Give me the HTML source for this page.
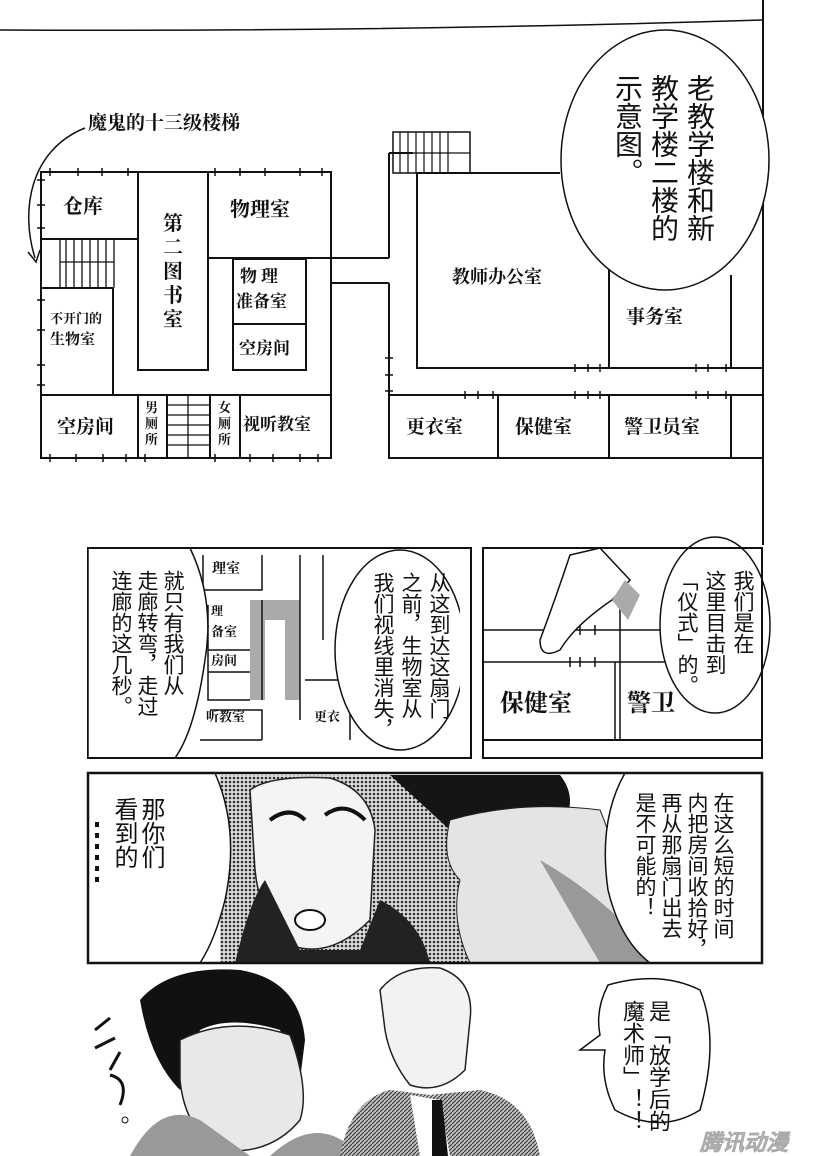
<!DOCTYPE html>
<html><head><meta charset="utf-8"><style>
body{margin:0;background:#fff;}
#c{position:relative;width:820px;height:1156px;overflow:hidden;background:#fff;font-family:"Liberation Sans","Noto Sans CJK SC",sans-serif;}
.v{position:absolute;writing-mode:vertical-rl;font-family:"Liberation Sans","Noto Sans CJK SC",sans-serif;color:#111;line-height:1;white-space:nowrap;}
.s{position:absolute;font-family:"Liberation Serif","Noto Serif CJK SC",serif;font-weight:bold;color:#111;white-space:nowrap;line-height:1;}
svg{position:absolute;left:0;top:0;}
</style></head><body><div id="c">
<svg width="820" height="1156" viewBox="0 0 820 1156">
<defs>
<pattern id="dot" width="4" height="4" patternUnits="userSpaceOnUse"><rect width="4" height="4" fill="#ddd"/><circle cx="2" cy="2" r="1.3" fill="#333"/></pattern>
<pattern id="hatch" width="4" height="4" patternUnits="userSpaceOnUse"><rect width="4" height="4" fill="#bbb"/><path d="M0 4L4 0" stroke="#333" stroke-width="1"/></pattern>
</defs>
<g fill="none" stroke="#111" stroke-width="2">
<path d="M0 30 Q380 32 762 20" stroke-width="1.5"/>
<line x1="763" y1="0" x2="763" y2="545"/>
<rect x="41" y="172" width="290" height="286"/>
<line x1="41" y1="239" x2="138" y2="239"/>
<rect x="138" y="172" width="70" height="198"/>
<line x1="208" y1="258" x2="331" y2="258"/>
<rect x="233" y="259" width="73" height="65"/>
<rect x="233" y="324" width="73" height="46"/>
<line x1="41" y1="288" x2="113" y2="288"/>
<line x1="113" y1="288" x2="113" y2="395"/>
<line x1="41" y1="395" x2="331" y2="395"/>
<line x1="138" y1="395" x2="138" y2="458"/>
<line x1="167" y1="395" x2="167" y2="458"/>
<line x1="210" y1="395" x2="210" y2="458"/>
<line x1="240" y1="395" x2="240" y2="458"/>
<g stroke-width="1.3"><line x1="60" y1="239" x2="60" y2="288"/><line x1="66" y1="239" x2="66" y2="288"/><line x1="74" y1="239" x2="74" y2="288"/><line x1="82" y1="239" x2="82" y2="288"/><line x1="90" y1="239" x2="90" y2="288"/><line x1="98" y1="239" x2="98" y2="288"/><line x1="106" y1="239" x2="106" y2="288"/><line x1="114" y1="239" x2="114" y2="288"/><line x1="60" y1="262" x2="114" y2="262"/>
<line x1="167" y1="405" x2="210" y2="405"/><line x1="167" y1="415" x2="210" y2="415"/><line x1="167" y1="425" x2="210" y2="425"/><line x1="167" y1="435" x2="210" y2="435"/><line x1="167" y1="445" x2="210" y2="445"/><line x1="188" y1="395" x2="188" y2="458"/></g>
<g stroke-width="1.5">
<path d="M50 168v8M78 168v8M102 168v8M128 168v8M215 168v8M240 168v8M265 168v8M300 168v8M322 168v8M50 454v8M76 454v8M103 454v8M126 454v8M145 454v8M215 454v8M250 454v8M273 454v8M300 454v8M318 454v8M37 180h8M37 205h8M37 228h8M37 300h8M37 330h8M37 365h8M37 385h8"/>
</g>
<path d="M85 128 C30 150 20 210 35 258" stroke-width="1.5"/>
<path d="M28 252 L36 262 L40 250" stroke-width="1.5"/>
<line x1="331" y1="258" x2="389" y2="258"/>
<line x1="331" y1="283" x2="389" y2="283"/>
<path d="M389 153 V258 M389 283 V458 H762"/>
<line x1="389" y1="153" x2="413" y2="153"/>
<line x1="417" y1="173" x2="560" y2="173"/>
<path d="M417 173 V368 H762"/>
<line x1="609" y1="265" x2="609" y2="368"/>
<line x1="731" y1="275" x2="731" y2="368"/>
<line x1="389" y1="395" x2="762" y2="395"/>
<line x1="498" y1="395" x2="498" y2="458"/>
<line x1="609" y1="395" x2="609" y2="458"/>
<line x1="731" y1="395" x2="731" y2="458"/>
<rect x="393" y="132" width="77" height="41" stroke-width="1.5"/>
<g stroke-width="1.2"><path d="M400 132v41M408 132v41M416 132v41M424 132v41M432 132v41M440 132v41M448 132v41M393 153h77"/></g>
<path d="M575 364v8M588 364v8M600 364v8M696 364v8M708 364v8M726 364v8M465 391v8M478 391v8M493 391v8M575 391v8M588 391v8M600 391v8M696 391v8M708 391v8M726 391v8M385 358h8M385 375h8M385 391h8" stroke-width="1.5"/>
<ellipse cx="665" cy="160" rx="104" ry="130" fill="#fff" stroke-width="1.5"/>
<rect x="88" y="548" width="383" height="210"/>
<rect x="483" y="548" width="279" height="210"/>
<line x1="483" y1="740" x2="762" y2="740"/>
</g>
<path d="M250 600 H300 V700 H285 V620 H265 V700 H250 Z" fill="#aaa"/>
<g fill="none" stroke="#111" stroke-width="1.5">
<path d="M203 555 V590 H262 V555"/><path d="M208 605 V700 H250"/><path d="M208 650 H250 M208 672 H250"/><path d="M210 710 H262 V740 M200 740 H262"/>
<path d="M262 600 V700 M300 555 V720 M323 555 V640"/><path d="M305 680 H350 V740"/>
</g>
<path d="M88 548 H190 Q215 600 205 660 Q195 730 175 758 H88Z" fill="#fff" stroke="#111" stroke-width="1.5"/>
<ellipse cx="400" cy="650" rx="65" ry="100" fill="#fff" stroke="#111" stroke-width="1.5"/>
<rect x="460" y="548" width="11" height="210" fill="#fff"/>
<line x1="471" y1="548" x2="471" y2="758" stroke="#111" stroke-width="2"/>
<line x1="88" y1="758" x2="471" y2="758" stroke="#111" stroke-width="2"/>
<line x1="88" y1="548" x2="471" y2="548" stroke="#111" stroke-width="2"/>
<g fill="none" stroke="#111" stroke-width="1.5">
<path d="M483 630 H680 M483 662 H680 M620 578 V740 M615 662 V740"/>
<path d="M570 625v10M580 625v10M595 625v10M570 657v10M580 657v10M595 657v10"/>
</g>
<path d="M600 548 L630 580 L612 600 Q575 625 560 650 Q540 660 540 640 Q555 600 570 555Z" fill="#fff" stroke="#111" stroke-width="1.5"/>
<path d="M612 600 L625 580 L640 595 L628 620Z" fill="#aaa"/>
<ellipse cx="715" cy="625" rx="55" ry="88" fill="#fff" stroke="#111" stroke-width="1.5"/>
<rect x="483" y="548" width="279" height="210" fill="none" stroke="#111" stroke-width="2"/>
<rect x="88" y="773" width="674" height="190" fill="#fff"/>
<rect x="220" y="775" width="270" height="188" fill="url(#dot)"/>
<path d="M390 775 H560 Q580 800 560 830 L500 850 L450 830 Z" fill="#151515"/>
<path d="M450 820 Q520 800 600 810 Q630 880 620 963 H470 Q450 920 460 880 Q440 860 450 820Z" fill="#e4e4e4" stroke="#222"/>
<path d="M540 860 Q610 900 660 963 H600Z" fill="#999"/>
<path d="M250 790 Q270 775 330 778 Q370 790 375 830 L370 920 Q330 960 290 945 Q260 920 255 870Z" fill="#f4f4f4" stroke="#222" stroke-width="1.5"/>
<path d="M235 963 Q250 900 265 880 L300 950 L360 950 L380 900 Q420 920 430 963Z" fill="#222"/>
<path d="M270 820 q20-15 35 0 M325 815 q20-15 40 5" stroke="#111" stroke-width="4" fill="none"/>
<ellipse cx="310" cy="920" rx="15" ry="10" fill="#fff" stroke="#111" stroke-width="2"/>
<path d="M88 773 H215 Q240 830 225 900 Q215 940 200 963 H88Z" fill="#fff" stroke="#111" stroke-width="1.5"/>
<path d="M762 773 H625 Q598 820 608 890 Q620 940 650 963 H762Z" fill="#fff" stroke="#111" stroke-width="1.5"/>
<rect x="88" y="773" width="674" height="190" fill="none" stroke="#111" stroke-width="2.5"/>
<g fill="#111"><rect x="95" y="822" width="4" height="5"/><rect x="95" y="833" width="4" height="5"/><rect x="95" y="844" width="4" height="5"/><rect x="95" y="855" width="4" height="5"/><rect x="95" y="866" width="4" height="5"/><rect x="95" y="877" width="4" height="5"/></g>
<path d="M140 1000 Q170 965 240 970 Q300 980 305 1040 L300 1080 L280 1030 Q230 1015 200 1030 L180 1090 Q150 1060 140 1000Z" fill="#111"/>
<path d="M180 1040 Q230 1015 290 1035 Q310 1090 300 1120 Q270 1156 220 1150 Q185 1130 180 1080Z" fill="#e8e8e8" stroke="#222" stroke-width="1.5"/>
<path d="M130 1156 Q160 1100 200 1120 L250 1156Z M270 1156 Q320 1110 360 1156Z" fill="#999"/>
<path d="M380 990 Q400 965 440 968 Q475 980 470 1020 L465 1070 Q440 1095 410 1085 Q390 1060 385 1030Z" fill="#f2f2f2" stroke="#222" stroke-width="1.5"/>
<path d="M340 1156 Q350 1100 390 1090 L430 1095 L480 1090 Q530 1100 540 1156Z" fill="url(#hatch)"/>
<path d="M410 1095 L440 1100 L450 1156 H420Z" fill="#fff"/>
<path d="M432 1100 L442 1100 L448 1156 H432Z" fill="#111"/>
<path d="M95 1030 l15 -12 M95 1048 l20 -10 M110 1070 l10 -18 M110 1075 q20 5 10 30" stroke="#111" stroke-width="3" fill="none"/>
<circle cx="125" cy="1120" r="3" fill="none" stroke="#111"/>
<path d="M608 985 Q660 970 700 990 Q720 1040 700 1110 Q660 1135 615 1110 Q600 1080 605 1050 L580 1050 L600 1035 Q595 1010 608 985Z" fill="#fff" stroke="#111" stroke-width="1.5"/>
<text x="700" y="1150" font-family="Liberation Sans" font-weight="bold" font-style="italic" font-size="22" fill="#ddd" stroke="#aaa" stroke-width="0.6">腾讯动漫</text>
</svg>
<div class="s" style="left:88px;top:114px;font-size:19px;">魔鬼的十三级楼梯</div>
<div class="s" style="left:63px;top:197px;font-size:20px;">仓库</div>
<div class="s" style="left:230px;top:200px;font-size:20px;">物理室</div>
<div class="s" style="left:240px;top:268px;font-size:17px;letter-spacing:4px;">物理</div>
<div class="s" style="left:236px;top:293px;font-size:17px;">准备室</div>
<div class="s" style="left:239px;top:340px;font-size:17px;">空房间</div>
<div class="s" style="left:163px;top:212px;font-size:20px;line-height:24px;white-space:normal;width:20px;">第二图书室</div>
<div class="s" style="left:50px;top:312px;font-size:13px;">不开门的</div>
<div class="s" style="left:50px;top:333px;font-size:15px;">生物室</div>
<div class="s" style="left:57px;top:418px;font-size:19px;">空房间</div>
<div class="s" style="left:145px;top:400px;font-size:13px;line-height:16px;white-space:normal;width:14px;">男厕所</div>
<div class="s" style="left:218px;top:400px;font-size:13px;line-height:16px;white-space:normal;width:14px;">女厕所</div>
<div class="s" style="left:243px;top:416px;font-size:17px;">视听教室</div>
<div class="s" style="left:452px;top:268px;font-size:18px;">教师办公室</div>
<div class="s" style="left:626px;top:308px;font-size:19px;">事务室</div>
<div class="s" style="left:406px;top:418px;font-size:19px;">更衣室</div>
<div class="s" style="left:515px;top:418px;font-size:19px;">保健室</div>
<div class="s" style="left:624px;top:418px;font-size:19px;">警卫员室</div>
<div class="v" style="left:609px;top:74px;font-size:28px;line-height:36px;">老教学楼和新<br>教学楼二楼的<br>示意图。</div>
<div class="s" style="left:212px;top:563px;font-size:14px;">理室</div>
<div class="s" style="left:211px;top:605px;font-size:12px;">理</div>
<div class="s" style="left:211px;top:625px;font-size:13px;">备室</div>
<div class="s" style="left:211px;top:654px;font-size:13px;">房间</div>
<div class="s" style="left:206px;top:710px;font-size:13px;">听教室</div>
<div class="s" style="left:314px;top:710px;font-size:13px;">更衣</div>
<div class="s" style="left:500px;top:692px;font-size:24px;">保健室</div>
<div class="s" style="left:627px;top:692px;font-size:24px;">警卫</div>
<div class="v" style="left:107px;top:570px;font-size:21px;line-height:26px;">就只有我们从<br>走廊转弯，走过<br>连廊的这几秒。</div>
<div class="v" style="left:368px;top:572px;font-size:21px;line-height:28px;">从这到达这扇门<br>之前，生物室从<br>我们视线里消失，</div>
<div class="v" style="left:672px;top:570px;font-size:21px;line-height:28px;">我们是在<br>这里目击到<br>「仪式」的。</div>
<div class="v" style="left:110px;top:797px;font-size:24px;line-height:27px;">那你们<br>看到的</div>
<div class="v" style="left:631px;top:792px;font-size:21px;line-height:26px;">在这么短的时间<br>内把房间收拾好，<br>再从那扇门出去<br>是不可能的！</div>
<div class="v" style="left:619px;top:1000px;font-size:22px;line-height:26px;">是「放学后的<br>魔术师」！！</div>
</div></body></html>
